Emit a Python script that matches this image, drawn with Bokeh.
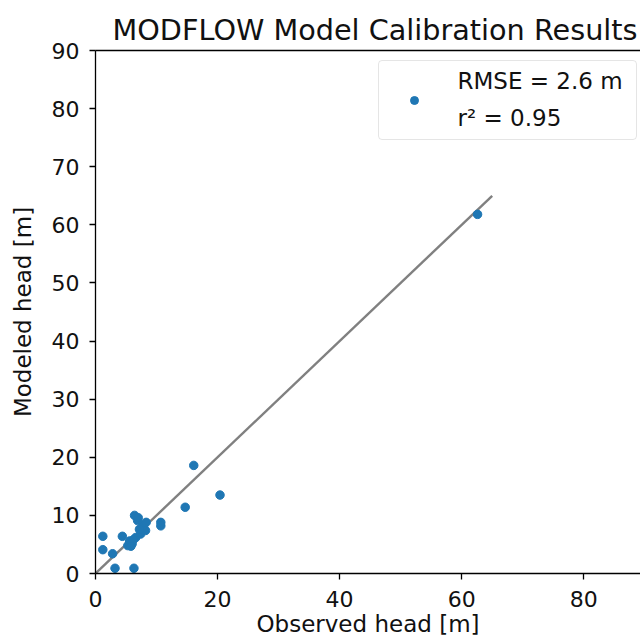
from bokeh.plotting import figure
from bokeh.models import Range1d, LinearAxis, Legend, LegendItem, FixedTicker, Label
from bokeh.embed import file_html
from bokeh.resources import INLINE

# observed vs modeled heads [m]
observed = [1.2, 1.2, 2.8, 3.2, 6.3, 4.4, 5.3, 5.6, 6.0, 6.6, 7.4, 8.2, 7.8, 8.3,
            6.9, 6.4, 7.0, 10.7, 10.7, 14.7, 16.1, 20.4, 62.6, 6.2, 7.2, 5.8]
modeled = [6.4, 4.1, 3.4, 0.9, 0.9, 6.4, 4.8, 5.6, 5.1, 6.2, 6.8, 7.4, 8.3, 8.8,
           9.1, 10.0, 9.6, 8.8, 8.2, 11.4, 18.6, 13.5, 61.8, 5.8, 7.6, 4.7]
line_x = [0, 65]
line_y = [0, 65]
x_ticks = [0, 20, 40, 60, 80]
y_ticks = [0, 10, 20, 30, 40, 50, 60, 70, 80, 90]
legend_lines = ["RMSE = 2.6 m", "r\u00b2 = 0.95"]
x_label = "Observed head [m]"
y_label = "Modeled head [m]"

FONT = "DejaVu Sans"
TXT = "#111111"

p = figure(width=640, height=644, output_backend="svg", toolbar_location=None,
           x_range=Range1d(0, 89.3), y_range=Range1d(0, 90),
           min_border_left=95, min_border_right=0, min_border_top=50, min_border_bottom=71,
           title="MODFLOW Model Calibration Results")
p.title.text_font = FONT
p.title.text_font_size = "28.7px"
p.title.text_font_style = "normal"
p.title.align = "left"
p.title.offset = 17
p.title.text_color = TXT
p.title.standoff = 8
p.outline_line_color = None
p.grid.grid_line_color = None

for ax in (p.xaxis[0], p.yaxis[0]):
    ax.major_label_text_font = FONT
    ax.major_label_text_font_size = "22px"
    ax.major_label_text_color = TXT
    ax.axis_label_text_font = FONT
    ax.axis_label_text_font_size = "23px"
    ax.axis_label_text_font_style = "normal"
    ax.axis_label_text_color = TXT
    ax.minor_tick_line_color = None
    ax.major_tick_out = 6
    ax.major_tick_in = 0
    ax.axis_line_width = 1.3
    ax.major_tick_line_width = 1.3
    ax.axis_line_color = "black"
    ax.major_tick_line_color = "black"
p.xaxis[0].ticker = FixedTicker(ticks=x_ticks)
p.yaxis[0].ticker = FixedTicker(ticks=y_ticks)
p.xaxis[0].axis_label = x_label
p.yaxis[0].axis_label = y_label
p.xaxis[0].major_label_standoff = 11
p.xaxis[0].axis_label_standoff = 1
p.yaxis[0].major_label_standoff = 10
p.yaxis[0].axis_label_standoff = 13

top = LinearAxis(major_tick_line_color=None, minor_tick_line_color=None,
                 major_label_text_font_size="0px", axis_line_color="black",
                 axis_line_width=1.3)
top.ticker = FixedTicker(ticks=[])
p.add_layout(top, "above")

p.line(line_x, line_y, line_color="gray", line_width=2.4)
pts = p.scatter(observed, modeled, size=8.5, fill_color="#1f77b4", line_color="#1f77b4")

legend = Legend(items=[LegendItem(label=" ", renderers=[pts])],
                location=(283, 433))
legend.label_text_font_size = "1px"
legend.padding = 25
legend.glyph_width = 20
legend.glyph_height = 20
legend.label_standoff = 21
legend.label_width = 166
legend.label_height = 28
legend.spacing = 0
legend.border_line_color = "#cccccc"
legend.border_line_width = 1
legend.background_fill_color = None
legend.margin = 0
if "border_radius" in Legend.properties():
    legend.border_radius = 4
p.add_layout(legend, "center")

for i, txt in enumerate(legend_lines):
    p.add_layout(Label(x=362, y=493 - 37 * i, x_units="screen", y_units="screen",
                       text=txt, text_font=FONT, text_font_size="23px",
                       text_color=TXT, text_baseline="middle", text_align="left",
                       level="overlay"))

open("out.html", "w").write(file_html(p, INLINE))
